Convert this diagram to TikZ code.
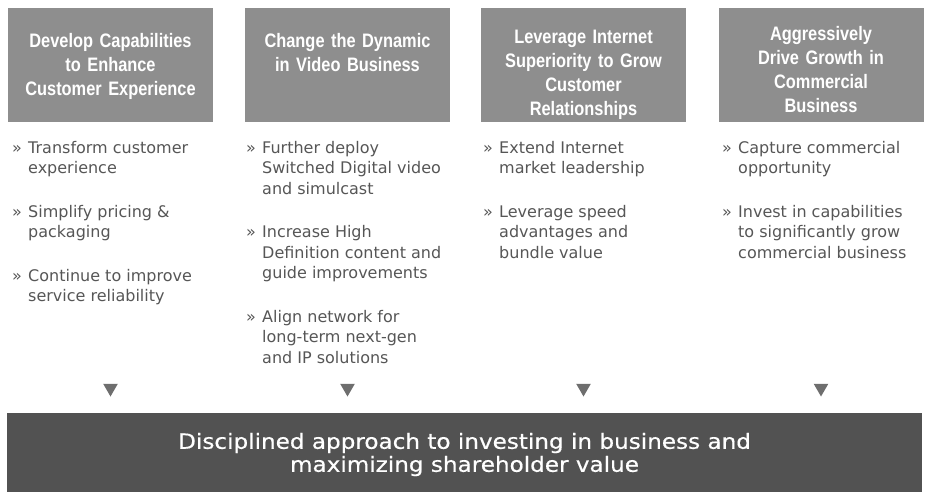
\documentclass[tikz,border=0pt]{standalone}
\usepackage{fontspec}
\setmainfont{DejaVu Sans}
\newfontfamily\headfont[FakeStretch=0.84]{Liberation Sans Bold}
\newfontfamily\basefont[FakeStretch=1.1,FakeBold=0.5]{DejaVu Sans}
\usetikzlibrary{positioning, shapes.geometric}
\definecolor{headgray}{HTML}{8E8E8E}
\definecolor{basegray}{HTML}{525252}
\definecolor{trigray}{HTML}{6E6E6E}
\definecolor{bodygray}{HTML}{565656}
\newcommand{\blt}{\makebox[16pt][l]{»}}
\newcommand{\ind}{\hspace*{16pt}}
\tikzset{
    head/.style={fill=headgray, minimum width=205pt, minimum height=114pt, inner sep=0pt},
    headtext/.style={text=white, font=\headfont\fontsize{19.5}{24}\selectfont, align=center, text width=200pt, inner sep=0pt, anchor=north},
    bullets/.style={text=bodygray, font=\fontsize{16}{20.5}\selectfont, align=left, inner sep=0pt, anchor=north west},
    tri/.style={regular polygon, regular polygon sides=3, shape border rotate=180, fill=trigray, minimum size=17pt, inner sep=0pt},
    base/.style={fill=basegray, minimum width=915pt, minimum height=79pt, inner sep=0pt},
    basetext/.style={text=white, align=center, inner sep=0pt, font=\basefont\fontsize{21}{23}\selectfont}
}
\begin{document}
\begin{tikzpicture}[x=1pt, y=-1pt]
    \useasboundingbox (0,0) rectangle (925,495);
    % headers
    \node[head] (head1) at (110.5,65) {};
    \node[head] (head2) at (347.5,65) {};
    \node[head] (head3) at (583.5,65) {};
    \node[head] (head4) at (821,65) {};
    \node[headtext] (title1) at ([yshift=-25pt]head1.north) {Develop Capabilities\\to Enhance\\Customer Experience};
    \node[headtext] (title2) at ([yshift=-25pt]head2.north) {Change the Dynamic\\in Video Business};
    \node[headtext] (title3) at ([yshift=-22pt]head3.north) {Leverage Internet\\Superiority to Grow\\Customer\\Relationships};
    \node[headtext] (title4) at ([yshift=-18pt]head4.north) {Aggressively\\Drive Growth in\\Commercial\\Business};
    % bullets
    \node[bullets] (list1) at (12,141) {\blt Transform customer\\\ind experience\\[23pt]
        \blt Simplify pricing \&\\\ind packaging\\[23pt]
        \blt Continue to improve\\\ind service reliability};
    \node[bullets] (list2) at (246,141) {\blt Further deploy\\\ind Switched Digital video\\\ind and simulcast\\[23pt]
        \blt Increase High\\\ind Definition content and\\\ind guide improvements\\[23pt]
        \blt Align network for\\\ind long-term next-gen\\\ind and IP solutions};
    \node[bullets] (list3) at (483,141) {\blt Extend Internet\\\ind market leadership\\[23pt]
        \blt Leverage speed\\\ind advantages and\\\ind bundle value};
    \node[bullets] (list4) at (722,141) {\blt Capture commercial\\\ind opportunity\\[23pt]
        \blt Invest in capabilities\\\ind to significantly grow\\\ind commercial business};
    % arrows down
    \node[tri] (tri1) at (110.5,388) {};
    \node[tri] (tri2) at (347.5,388) {};
    \node[tri] (tri3) at (583.5,388) {};
    \node[tri] (tri4) at (821,388) {};
    % base
    \node[base] (goal) at (464.5,452.5) {};
    \node[basetext] (goaltext) at ([yshift=-2pt]goal.center) {Disciplined approach to investing in business and\\maximizing shareholder value};
\end{tikzpicture}
\end{document}
